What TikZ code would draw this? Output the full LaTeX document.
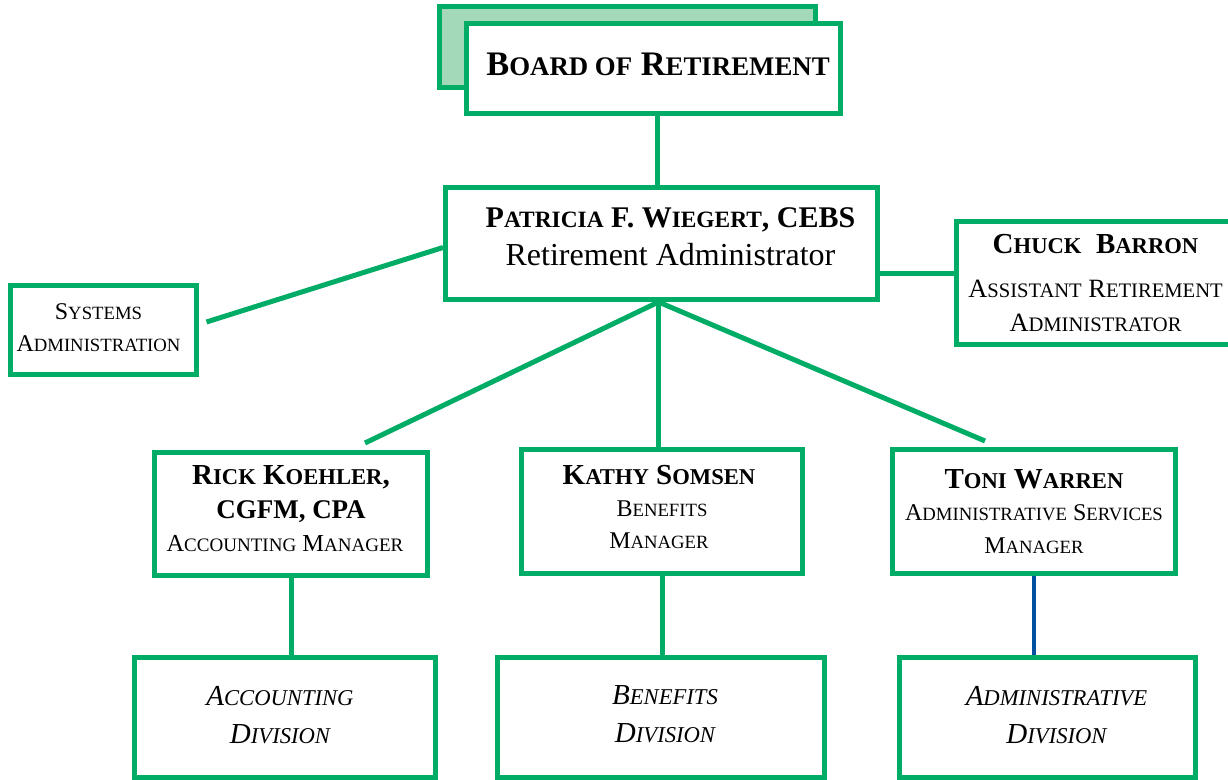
\documentclass[tikz,border=0pt]{standalone}
\usepackage{fontspec}
\setmainfont{Liberation Serif}
\usepackage{graphicx}
\usepackage{tikz}
\usetikzlibrary{calc, positioning}
\usepackage{xcolor}
\definecolor{orggreen}{RGB}{0,172,102}
\definecolor{orgshade}{RGB}{163,217,184}
\definecolor{orgblue}{RGB}{0,80,160}
% fake small caps
\newcommand{\sm}[1]{\scalebox{0.78}{\MakeUppercase{#1}}}

\begin{document}
\begin{tikzpicture}[x=0.5pt, y=-0.5pt,
    box/.style={draw=orggreen, line width=2.5pt, fill=white, align=center, inner sep=0pt},
    link/.style={orggreen, line width=2.5pt}]
    \clip (0,0) rectangle (1228,780);

    % Board with its shadow
    \node[box, fill=orgshade, minimum width=188pt, minimum height=40.5pt] (shade) at (627.5,47) {};
    \node[box, minimum width=187pt, minimum height=45pt, text depth=4pt,
          font=\bfseries\fontsize{17.2}{22}\selectfont] (board) at (653.5,68.5)
          {\hspace*{4.5pt}B\sm{oard of} R\sm{etirement}};

    % Administrator
    \node[box, minimum width=216pt, minimum height=56pt, text depth=7pt, font=\fontsize{16}{19}\selectfont] (pat) at (661.5,243.5)
          {\hspace*{9pt}\textbf{\fontsize{15}{19}\selectfont P\sm{atricia} F. W\sm{iegert}, CEBS}\\ \hspace*{9pt}Retirement Administrator};

    % Side boxes
    \node[box, minimum width=93pt, minimum height=44.5pt, text depth=2pt, font=\fontsize{12}{16}\selectfont] (sys) at (103.5,330)
          {S\sm{ystems}\hspace*{5pt}\\ A\sm{dministration}\hspace*{5pt}};
    \node[box, minimum width=139pt, minimum height=61.5pt, font=\fontsize{13.2}{17}\selectfont] (chuck) at (1095.5,283)
          {\textbf{\fontsize{14.5}{17}\selectfont C\sm{huck}\ \ B\sm{arron}}\\[5pt] A\sm{ssistant} R\sm{etirement}\\ A\sm{dministrator}};

    % Managers
    \node[box, minimum width=136.5pt, minimum height=61.5pt, text depth=5pt, font=\fontsize{12.2}{16.75}\selectfont] (rick) at (291,514)
          {\textbf{\fontsize{14.5}{16}\selectfont R\sm{ick} K\sm{oehler},}\\ \textbf{\fontsize{13.5}{16}\selectfont CGFM, CPA}\\ A\sm{ccounting} M\sm{anager}\hspace*{6pt}};
    \node[box, minimum width=140.5pt, minimum height=62pt, text depth=5pt, font=\fontsize{12}{16}\selectfont] (kathy) at (662,511.5)
          {\textbf{\fontsize{14.5}{16}\selectfont K\sm{athy} S\sm{omsen}}\hspace*{3pt}\\ B\sm{enefits}\hspace*{3pt}\\ M\sm{anager}\hspace*{3pt}};
    \node[box, minimum width=141.5pt, minimum height=62pt, font=\fontsize{12}{16.3}\selectfont] (toni) at (1034,511.5)
          {\textbf{\fontsize{14.5}{16}\selectfont T\sm{oni} W\sm{arren}}\\ A\sm{dministrative} S\sm{ervices}\\ M\sm{anager}};

    % Divisions
    \node[box, minimum width=150.5pt, minimum height=60pt, text depth=3pt, font=\itshape\fontsize{14.5}{19}\selectfont] (accdiv) at (285,717.5)
          {A\sm{ccounting}\hspace*{5pt}\\ D\sm{ivision}\hspace*{5pt}};
    \node[box, minimum width=163.5pt, minimum height=60pt, text depth=3pt, font=\itshape\fontsize{14.5}{19}\selectfont] (bendiv) at (661,717.5)
          {\hspace*{4pt}B\sm{enefits}\\ \hspace*{4pt}D\sm{ivision}};
    \node[box, minimum width=148pt, minimum height=60pt, text depth=3pt, font=\itshape\fontsize{14.5}{19}\selectfont] (admdiv) at (1047.5,717.5)
          {\hspace*{9pt}A\sm{dministrative}\\ \hspace*{9pt}D\sm{ivision}};

    % Connector end points
    \coordinate (boardout) at ($(board.south)+(3.5,0)$);
    \coordinate (hub) at ($(pat.south)+(-3,0)$);
    \coordinate (sysout) at ($(sys.east)+(7.5,-8)$);
    \coordinate (chuckin) at ($(chuck.west)+(0,-9)$);
    \coordinate (rickin) at ($(rick.north)+(74,-7)$);
    \coordinate (toniin) at ($(toni.north)+(-49,-6)$);

    % Connectors
    \draw[link] (boardout) -- (boardout |- pat.north);
    \draw[link] (sysout) -- ($(pat.west)+(0,4)$);
    \draw[link] (chuckin) -- (chuckin -| pat.east);
    \draw[link] (hub) -- (rickin);
    \draw[link] (hub) -- (hub |- kathy.north);
    \draw[link] (hub) -- (toniin);
    \draw[link] (rick.south) -- (rick.south |- accdiv.north);
    \draw[link] (kathy.south) -- (kathy.south |- bendiv.north);
    \draw[orgblue, line width=2pt] (toni.south) -- (toni.south |- admdiv.north);

\end{tikzpicture}
\end{document}
